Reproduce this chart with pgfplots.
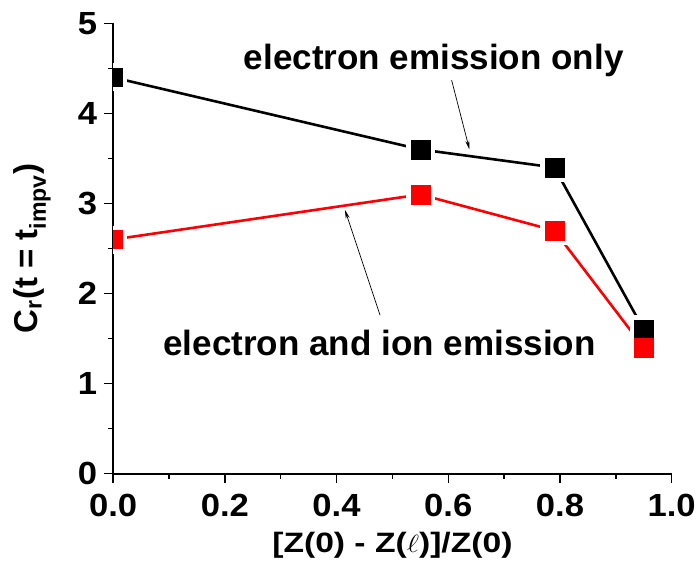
\documentclass[border=0pt]{standalone}
\usepackage{pgfplots}
\pgfplotsset{compat=1.18}
\usetikzlibrary{arrows.meta}
\usepackage{fontspec}
\setmainfont{Liberation Sans}
\pgfdeclareplotmark{halfsq}{%
  \pgfpathrectanglecorners{\pgfpoint{0pt}{-\pgfplotmarksize}}{\pgfpoint{\pgfplotmarksize}{\pgfplotmarksize}}%
  \pgfusepathqfill}
\begin{document}
\begin{tikzpicture}
\begin{axis}[
 at={(0,0)}, anchor=south west,
 scale only axis, width=558pt, height=450pt,
 xmin=0, xmax=1, ymin=0, ymax=5,
 axis x line*=bottom, axis y line*=left,
 axis line style={line width=1.6pt},
 xtick={0,0.2,0.4,0.6,0.8,1.0}, ytick={0,1,2,3,4,5},
 minor x tick num=1, minor y tick num=1,
 tick align=outside,
 major tick length=9pt, minor tick length=5pt,
 every tick/.style={line width=1.4pt, black},
 /pgf/number format/assume math mode=true,
 xticklabel style={yshift=-8pt, /pgf/number format/fixed, /pgf/number format/fixed zerofill, /pgf/number format/precision=1},
 yticklabel style={xshift=-3pt},
 tick label style={font=\fontsize{32}{32}\selectfont\bfseries, xscale=1.08},
 xlabel={[Z(0) - Z($\ell$)]/Z(0)},
 xlabel style={font=\fontsize{28}{30}\selectfont\bfseries, xscale=1.2, yshift=-8pt},
 ylabel={C\textsubscript{r}(t = t\textsubscript{impv})},
 ylabel style={font=\fontsize{33}{36}\selectfont\bfseries, yshift=20pt},
 axis on top,
]
\addplot[black, line width=2.6pt, no markers] coordinates {(0,4.4) (0.55,3.6) (0.79,3.4) (0.95,1.6)};
\addplot[red, line width=2.6pt, no markers] coordinates {(0,2.6) (0.55,3.1) (0.79,2.7) (0.95,1.4)};
\addplot[white, only marks, mark=halfsq, mark size=14pt] coordinates {(0,4.4) (0,2.6)};
\addplot[white, only marks, mark=square*, mark size=14pt] coordinates {(0.55,3.6) (0.79,3.4) (0.95,1.6) (0.55,3.1) (0.79,2.7) (0.95,1.4)};
\addplot[black, only marks, mark=halfsq, mark size=9.5pt] coordinates {(0,4.4)};
\addplot[red, only marks, mark=halfsq, mark size=9.5pt] coordinates {(0,2.6)};
\addplot[black, only marks, mark=square*, mark size=9.5pt] coordinates {(0.55,3.6) (0.79,3.4) (0.95,1.6)};
\addplot[red, only marks, mark=square*, mark size=9.5pt] coordinates {(0.55,3.1) (0.79,2.7) (0.95,1.4)};
\node[font=\fontsize{35}{35}\selectfont\bfseries] at (axis cs:0.574,4.59) {electron emission only};
\node[font=\fontsize{35}{35}\selectfont\bfseries] at (axis cs:0.477,1.45) {electron and ion emission};
\draw[-{Stealth[length=9pt,width=4pt]}, line width=0.7pt] (axis cs:0.606,4.37) -- (axis cs:0.638,3.60);
\draw[-{Stealth[length=9pt,width=4pt]}, line width=0.7pt] (axis cs:0.478,1.76) -- (axis cs:0.415,2.93);
\end{axis}
\pgfresetboundingbox
\path[use as bounding box] (-113pt,-91.7pt) rectangle (583.3pt,473.3pt);
\end{tikzpicture}
\end{document}
